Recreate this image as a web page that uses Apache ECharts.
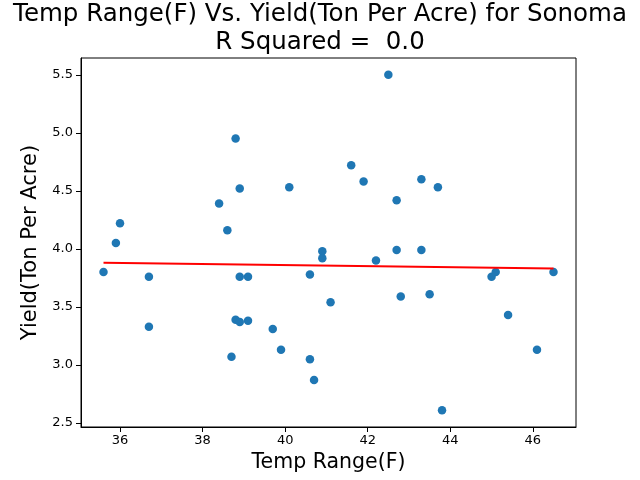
<!DOCTYPE html>
<html>
<head>
<meta charset="utf-8">
<script src="https://cdn.jsdelivr.net/npm/echarts@6/dist/echarts.min.js"></script>
<style>
  html, body { margin: 0; padding: 0; background: #fff; }
  #main { width: 640px; height: 480px; }
</style>
</head>
<body>
<div id="main"></div>
<script>
// temperature range (F) per year
var tempRange = [35.6, 35.9, 36.0, 36.7, 36.7, 38.4, 38.6, 38.8, 38.9, 38.9, 39.1,
  38.8, 38.9, 39.1, 38.7, 39.7, 39.9, 40.1, 40.6, 40.6, 40.7, 40.9, 40.9, 41.1,
  42.5, 41.6, 41.9, 42.7, 43.3, 43.7, 42.7, 43.3, 42.2, 42.8, 43.5, 43.8, 45.0,
  45.1, 45.4, 46.1, 46.5];
// yield (ton per acre)
var yieldTons = [3.80, 4.05, 4.22, 3.76, 3.33, 4.39, 4.16, 4.95, 4.52, 3.76, 3.76,
  3.39, 3.37, 3.38, 3.07, 3.31, 3.13, 4.53, 3.78, 3.05, 2.87, 3.98, 3.92, 3.54,
  5.50, 4.72, 4.58, 4.42, 4.60, 4.53, 3.99, 3.99, 3.90, 3.59, 3.61, 2.61, 3.76,
  3.80, 3.43, 3.13, 3.80];
// fitted line
var fitX = [35.6, 46.5];
var fitY = [3.88, 3.83];
var xTicks = [36, 38, 40, 42, 44, 46];
var yTicks = [2.5, 3.0, 3.5, 4.0, 4.5, 5.0, 5.5];

var font = 'DejaVu Sans';
var chart = echarts.init(document.getElementById('main'));

var points = tempRange.map(function (x, i) { return [x, yieldTons[i]]; });
var fitLine = fitX.map(function (x, i) { return [x, fitY[i]]; });

chart.setOption({
  animation: false,
  title: {
    text: 'Temp Range(F) Vs. Yield(Ton Per Acre) for Sonoma\nR Squared =  0.0',
    left: 'center',
    top: -4,
    textStyle: { fontFamily: font, fontSize: 24.5, fontWeight: 'normal', color: '#000', lineHeight: 27.5 }
  },
  grid: {
    left: 81, right: 64, top: 58, bottom: 53,
    show: true, borderColor: '#000', borderWidth: 1, backgroundColor: 'transparent'
  },
  xAxis: {
    type: 'value',
    min: 35.055, max: 47.045,
    name: 'Temp Range(F)',
    nameLocation: 'middle',
    nameGap: 25,
    nameTextStyle: { fontFamily: font, fontSize: 20.5, color: '#000' },
    axisLine: { show: true, onZero: false, lineStyle: { color: '#000', width: 1 } },
    axisTick: { show: true, length: 5, lineStyle: { color: '#000' }, customValues: xTicks },
    axisLabel: { fontFamily: font, fontSize: 13, color: '#000', margin: 7, customValues: xTicks },
    splitLine: { show: false }
  },
  yAxis: {
    type: 'value',
    min: 2.4655, max: 5.6445,
    name: 'Yield(Ton Per Acre)',
    nameLocation: 'middle',
    nameGap: 38,
    nameTextStyle: { fontFamily: font, fontSize: 21, color: '#000' },
    axisLine: { show: true, onZero: false, lineStyle: { color: '#000', width: 1 } },
    axisTick: { show: true, length: 5, lineStyle: { color: '#000' }, customValues: yTicks },
    axisLabel: {
      fontFamily: font, fontSize: 13, color: '#000', margin: 8, customValues: yTicks,
      formatter: function (v) { return v.toFixed(1); }
    },
    splitLine: { show: false }
  },
  series: [
    {
      type: 'scatter',
      data: points,
      symbolSize: 8.5,
      itemStyle: { color: '#1f77b4', opacity: 1 },
      z: 2
    },
    {
      type: 'line',
      data: fitLine,
      showSymbol: false,
      lineStyle: { color: '#ff0000', width: 2 },
      z: 3
    }
  ]
});
</script>
</body>
</html>
